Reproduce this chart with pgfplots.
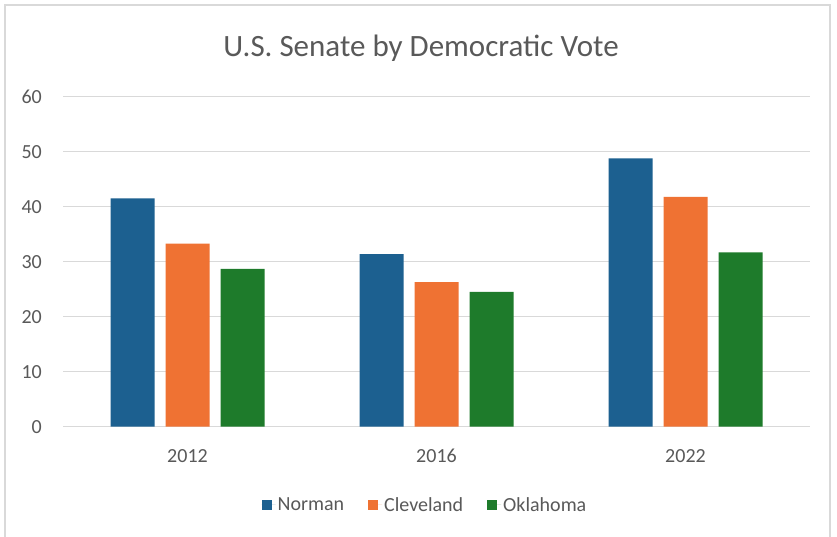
\documentclass[border=0pt]{standalone}
\usepackage{fontspec}
\setmainfont{Carlito}
\usepackage{pgfplots}
\pgfplotsset{compat=1.18}
\definecolor{cNorman}{HTML}{1C6090}
\definecolor{cCleveland}{HTML}{EF7233}
\definecolor{cOklahoma}{HTML}{1E7B2B}
\definecolor{txt}{HTML}{595959}
\definecolor{gridc}{HTML}{D9D9D9}
\begin{document}
\begin{tikzpicture}
\useasboundingbox (0,0) rectangle (837bp,537bp);
\fill[white] (0,0) rectangle (837bp,537bp);
\draw[gray!30, line width=1.2bp] (5bp,-2bp) -- (5bp,532bp) -- (830bp,532bp) -- (830bp,-2bp);
\node[text=txt, inner sep=0pt, anchor=base] at (421bp,480bp) {\fontsize{31bp}{36bp}\selectfont U.S. Senate by Democratic Vote};
\begin{axis}[
  at={(63bp,110.3bp)}, anchor=south west,
  scale only axis, width=747bp, height=330bp,
  ymin=0, ymax=60, ytick={0,10,...,60},
  xmin=-0.5, xmax=2.5, xtick={0,1,2}, xticklabels={2012,2016,2022},
  ybar, bar width=44bp,
  axis line style={draw=none},
  major tick length=0pt,
  ymajorgrids, grid style={gridc, line width=1.3bp},
  /pgf/number format/assume math mode=true,
  tick label style={font=\fontsize{20bp}{23bp}\selectfont, text=txt, inner sep=0pt},
  yticklabel style={anchor=east, xshift=-21bp},
  xticklabel style={anchor=base, yshift=-36bp},
  legend columns=3,
  legend style={at={(0.4846,-0.237)}, anchor=center, draw=none, fill=none,
    font=\fontsize{20bp}{23bp}\selectfont, text=txt,
    /tikz/every even column/.append style={column sep=22bp}},
  legend image code/.code={\path (0bp,0bp) -- (14bp,0bp); \fill[#1, draw=none] (0bp,-5bp) rectangle (10bp,5bp);},
]
\addplot[fill=cNorman, draw=none, bar shift=-55bp] coordinates {(0,41.5) (1,31.4) (2,48.8)};
\addplot[fill=cCleveland, draw=none, bar shift=0bp] coordinates {(0,33.3) (1,26.3) (2,41.8)};
\addplot[fill=cOklahoma, draw=none, bar shift=55bp] coordinates {(0,28.7) (1,24.5) (2,31.7)};
\legend{Norman,Cleveland,Oklahoma}
\end{axis}
\end{tikzpicture}
\end{document}
